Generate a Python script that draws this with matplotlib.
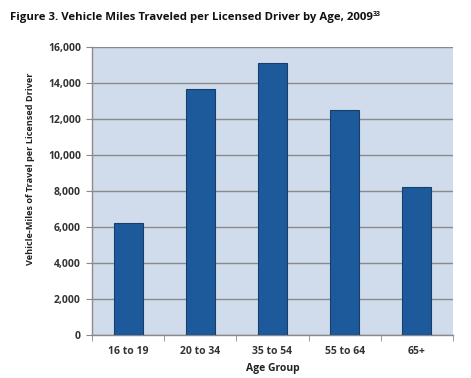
import numpy as np
import matplotlib.pyplot as plt

plt.rcParams['font.family'] = ['Open Sans', 'DejaVu Sans']

groups = ["16 to 19", "20 to 34", "35 to 54", "55 to 64", "65+"]
miles = [6240, 13680, 15110, 12520, 8240]
yticks = [0, 2000, 4000, 6000, 8000, 10000, 12000, 14000, 16000]

fig = plt.figure(figsize=(4.71, 3.78), dpi=100)
ax = fig.add_axes([0.1953, 0.1138, 0.7665, 0.7619])
ax.set_facecolor('#D0DCEC')

x = np.arange(len(groups))
ax.bar(x, miles, width=0.4, color='#1C5A9B', edgecolor='#173F6B', linewidth=0.8, zorder=3)

ax.set_xlim(-0.5, len(groups) - 0.5)
ax.set_ylim(0, 16000)
ax.set_yticks(yticks)
ax.set_yticklabels(['{:,}'.format(v) for v in yticks])
ax.yaxis.grid(True, color='#8A8A8A', linewidth=1.0, zorder=1)
ax.set_axisbelow(True)

ax.set_xticks(x)
ax.set_xticklabels(groups)
ax.set_xticks(np.arange(len(groups) + 1) - 0.5, minor=True)
ax.tick_params(axis='x', which='major', length=0, pad=8)
ax.tick_params(axis='x', which='minor', length=4, color='#8A8A8A', direction='out')
ax.tick_params(axis='y', length=4, color='#8A8A8A', direction='out', pad=4)
for lab in ax.get_xticklabels() + ax.get_yticklabels():
    lab.set_fontsize(7.5)
    lab.set_fontweight('bold')
    lab.set_color('#333333')

for s in ['top', 'right']:
    ax.spines[s].set_visible(False)
for s in ['left', 'bottom']:
    ax.spines[s].set_color('#8A8A8A')
    ax.spines[s].set_linewidth(1.0)

ax.set_ylabel('Vehicle-Miles of Travel per Licensed Driver', fontsize=6.6,
              fontweight='bold', color='#222222')
ax.yaxis.set_label_coords(-0.158, 0.576)
ax.set_xlabel('Age Group', fontsize=7.5, fontweight='bold', color='#222222', labelpad=4)

# title + small superscript
t = fig.text(0.021, 0.955, 'Figure 3. Vehicle Miles Traveled per Licensed Driver by Age, 2009',
             fontsize=8.2, fontweight='bold', color='#111111', ha='left', va='center')
fig.canvas.draw()
bb = t.get_window_extent().transformed(fig.transFigure.inverted())
fig.text(bb.x1 + 0.001, 0.962, '33', fontsize=5, fontweight='bold', color='#111111',
         ha='left', va='center')

fig.savefig('out.png', dpi=100)
